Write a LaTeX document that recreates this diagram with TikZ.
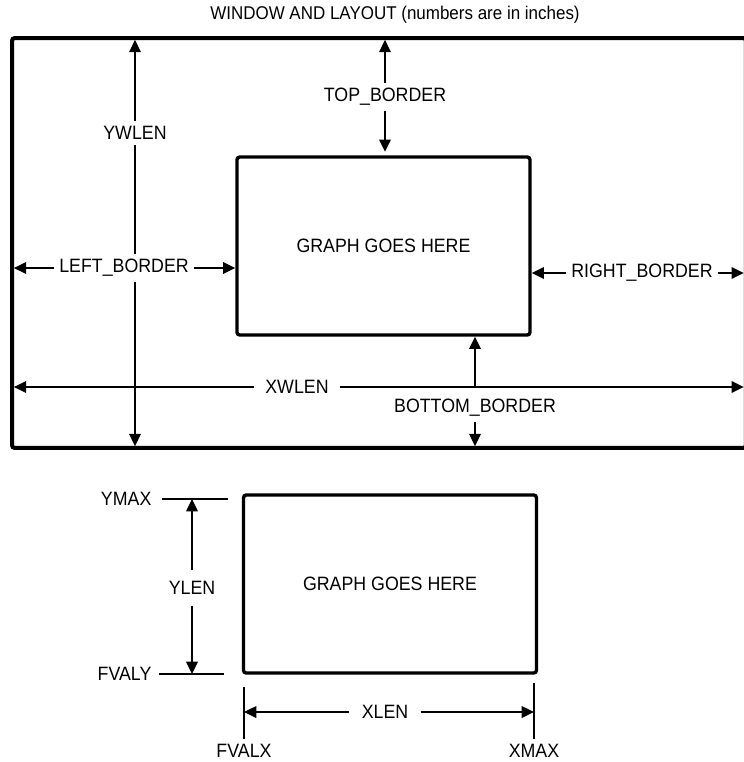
\documentclass[tikz,border=0pt]{standalone}
\usepackage{fontspec}
\setmainfont{Liberation Sans}[FakeStretch=0.92]
\usepackage{tikz}
\usetikzlibrary{positioning,arrows.meta}

\begin{document}
\begin{tikzpicture}[x=0.02cm, y=-0.02cm,
    lab/.style={font=\fontsize{11}{13}\selectfont, inner sep=3pt},
    dimline/.style={line width=1.2pt, -{Triangle[length=7pt,width=6.5pt]}},
    plainline/.style={line width=1.2pt},
    tick/.style={line width=0.8pt},
    graphbox/.style={rectangle, draw, line width=1.9pt, rounded corners=1.5pt, minimum width=5.86cm, minimum height=3.56cm, font=\fontsize{11}{13}\selectfont}]
    \useasboundingbox (0,0) rectangle (744,762);
    \clip (0,0) rectangle (744,762);

    \node[font=\fontsize{10.5}{12}\selectfont] (title) at (395,15) {WINDOW AND LAYOUT (numbers are in inches)};

    % window and graph
    \node[rectangle, draw, line width=2.3pt, rounded corners=1.5pt, outer sep=0pt, minimum width=14.68cm, minimum height=8.2cm] (win) at (379,243) {};
    \node[graphbox] (g) at (383.5,246) {GRAPH GOES HERE};

    \node[lab] (yw) at (135,133) {YWLEN};
    \node[lab] (tb) at (385,97) {TOP\_BORDER};
    \node[lab] (lb) at (124,268) {LEFT\_BORDER};
    \node[lab] (rb) at (642,273) {RIGHT\_BORDER};
    \node[lab, inner xsep=6pt] (xw) at (297,387) {XWLEN};
    \node[lab] (bb) at (475,408) {BOTTOM\_BORDER};

    \draw[dimline, shorten >=1pt] (yw.north) -- (yw.north |- win.north);
    \draw[plainline] (yw.south) -- (yw.south |- lb.north);
    \draw[dimline, shorten >=1pt] (yw.south |- lb.south) -- (yw.south |- win.south);
    \draw[dimline, shorten >=1pt] (tb.north) -- (tb.north |- win.north);
    \draw[dimline, shorten >=2pt] (tb.south) -- (tb.south |- g.north);
    \draw[dimline, shorten >=1pt] (lb.west) -- (lb.west -| win.west);
    \draw[dimline] (lb.east) -- (lb.east -| g.west);
    \draw[dimline] (rb.west) -- (rb.west -| g.east);
    \draw[dimline, shorten >=1.2pt] (rb.east) -- (rb.east -| win.east);
    \draw[dimline, shorten >=1pt] (xw.west) -- (xw.west -| win.west);
    \draw[dimline, shorten >=1.2pt] (xw.east) -- (xw.east -| win.east);
    \draw[dimline] (bb.north |- xw.east) -- (bb.north |- g.south);
    \draw[dimline, shorten >=1pt] (bb.south) -- (bb.south |- win.south);

    % graph limits
    \node[graphbox] (g2) at (390,584) {GRAPH GOES HERE};
    \node[lab, anchor=east] (ymax) at (157,499) {YMAX};
    \node[lab, anchor=east] (fvaly) at (157,674) {FVALY};
    \node[lab, inner ysep=6pt] (yl) at (192,588) {YLEN};
    \node[lab] (fx) at (244,751) {FVALX};
    \node[lab] (xm) at (534,751) {XMAX};
    \node[lab, inner xsep=7pt] (xl) at (385,712) {XLEN};

    \draw[tick, shorten <=3pt, shorten >=8pt] (ymax.east) -- (ymax.east -| g2.west);
    \draw[tick, shorten <=1pt, shorten >=10pt] (fvaly.east) -- (fvaly.east -| g2.west);
    \draw[dimline] (yl.north) -- (yl.north |- ymax.east);
    \draw[dimline] (yl.south) -- (yl.south |- fvaly.east);
    \draw[tick, shorten >=7pt] (fx.north) -- (fx.north |- g2.south);
    \draw[tick, shorten >=5pt] (xm.north) -- (xm.north |- g2.south);
    \draw[dimline] (xl.west) -- (xl.west -| fx.north);
    \draw[dimline] (xl.east) -- (xl.east -| xm.north);
\end{tikzpicture}
\end{document}
